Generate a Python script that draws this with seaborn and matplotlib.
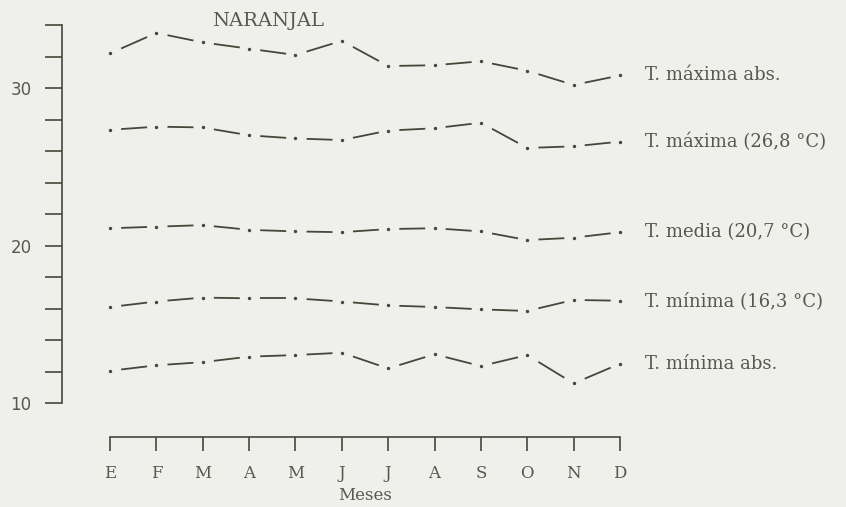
import pandas as pd
import matplotlib
matplotlib.use("Agg")
import matplotlib.pyplot as plt
from matplotlib.collections import LineCollection
import seaborn as sns

# months (Spanish initials) and monthly temperatures
months = ["E", "F", "M", "A", "M", "J", "J", "A", "S", "O", "N", "D"]
t_max_abs = [32.2, 33.5, 32.9, 32.5, 32.1, 33.0, 31.4, 31.45, 31.7, 31.1, 30.2, 30.8]
t_max = [27.35, 27.55, 27.5, 27.0, 26.8, 26.7, 27.3, 27.45, 27.8, 26.2, 26.3, 26.6]
t_media = [21.1, 21.2, 21.3, 21.0, 20.9, 20.85, 21.05, 21.1, 20.9, 20.35, 20.5, 20.85]
t_min = [16.1, 16.45, 16.7, 16.65, 16.65, 16.45, 16.2, 16.1, 15.95, 15.85, 16.55, 16.5]
t_min_abs = [12.05, 12.4, 12.6, 12.95, 13.05, 13.2, 12.2, 13.1, 12.35, 13.05, 11.25, 12.5]

series_names = ["T. máxima abs.", "T. máxima (26,8 °C)", "T. media (20,7 °C)",
                "T. mínima (16,3 °C)", "T. mínima abs."]
series_values = [t_max_abs, t_max, t_media, t_min, t_min_abs]

BG = "#efefec"
INK = "#46463a"
TXT = "#58584c"
GAP_A, GAP_B = 0.24, 0.2  # blank share of each month step after / before a dot

rows = []
for name, vals in zip(series_names, series_values):
    for i, v in enumerate(vals):
        rows.append({"mes": i, "temp": v, "serie": name})
df = pd.DataFrame(rows)

sns.set_style("white")
plt.rcParams["font.family"] = ["DejaVu Serif"]

fig = plt.figure(figsize=(8.46, 5.07), dpi=100, facecolor=BG)
ax = fig.add_axes([62 / 846, 1 - 437 / 507, 1 - 62 / 846, (437 - 17) / 507])
ax.set_facecolor(BG)

# the dots at every month
sns.scatterplot(data=df, x="mes", y="temp", color=INK, s=6, linewidth=0,
                legend=False, ax=ax, zorder=3)

# a dash between each pair of dots (dash-dot look of the original)
for vals in series_values:
    segs = []
    for i in range(len(vals) - 1):
        dv = vals[i + 1] - vals[i]
        segs.append([(i + GAP_A, vals[i] + GAP_A * dv),
                     (i + 1 - GAP_B, vals[i] + (1 - GAP_B) * dv)])
    ax.add_collection(LineCollection(segs, colors=INK, linewidths=1.3, capstyle="butt"))

# labels at the right end of every series
for name, vals in zip(series_names, series_values):
    ax.annotate(name, xy=(11, vals[-1]), xytext=(18, 0), textcoords="offset points",
                ha="left", va="center", fontsize=13, color=TXT, annotation_clip=False)

ax.set_xlim((62 - 110) / 46.36, (846 - 110) / 46.36)
ax.set_ylim(10 - (437 - 403) / 15.8, 30 + (88.3 - 17) / 15.8)

ax.set_xticks(range(12))
ax.set_xticklabels(months)
ax.set_yticks(range(10, 35, 2))
ax.set_yticklabels([str(t) if t % 10 == 0 else "" for t in range(10, 35, 2)],
                   family=["DejaVu Sans"])

for side in ["top", "right"]:
    ax.spines[side].set_visible(False)
for side in ["left", "bottom"]:
    ax.spines[side].set_color(INK)
    ax.spines[side].set_linewidth(1.2)
ax.spines["left"].set_bounds(10, 34)
ax.spines["bottom"].set_bounds(0, 11)

ax.tick_params(axis="y", direction="out", length=12, width=1.2, color=INK,
               pad=10, labelsize=12, labelcolor=TXT, left=True)
ax.tick_params(axis="x", direction="out", length=10, width=1.2, color=INK,
               pad=10, labelsize=12, labelcolor=TXT, bottom=True)

ax.set_xlabel("Meses", fontsize=12, color=TXT, va="center")
ax.xaxis.set_label_coords((365 - 62) / (846 - 62), -(495 - 437) / (437 - 17))
ax.set_ylabel("")

fig.text(268 / 846, 1 - 21 / 507, "NARANJAL", ha="center", va="center",
         fontsize=14, color=TXT)

fig.savefig("out.png", dpi=100, facecolor=BG)
plt.close(fig)
